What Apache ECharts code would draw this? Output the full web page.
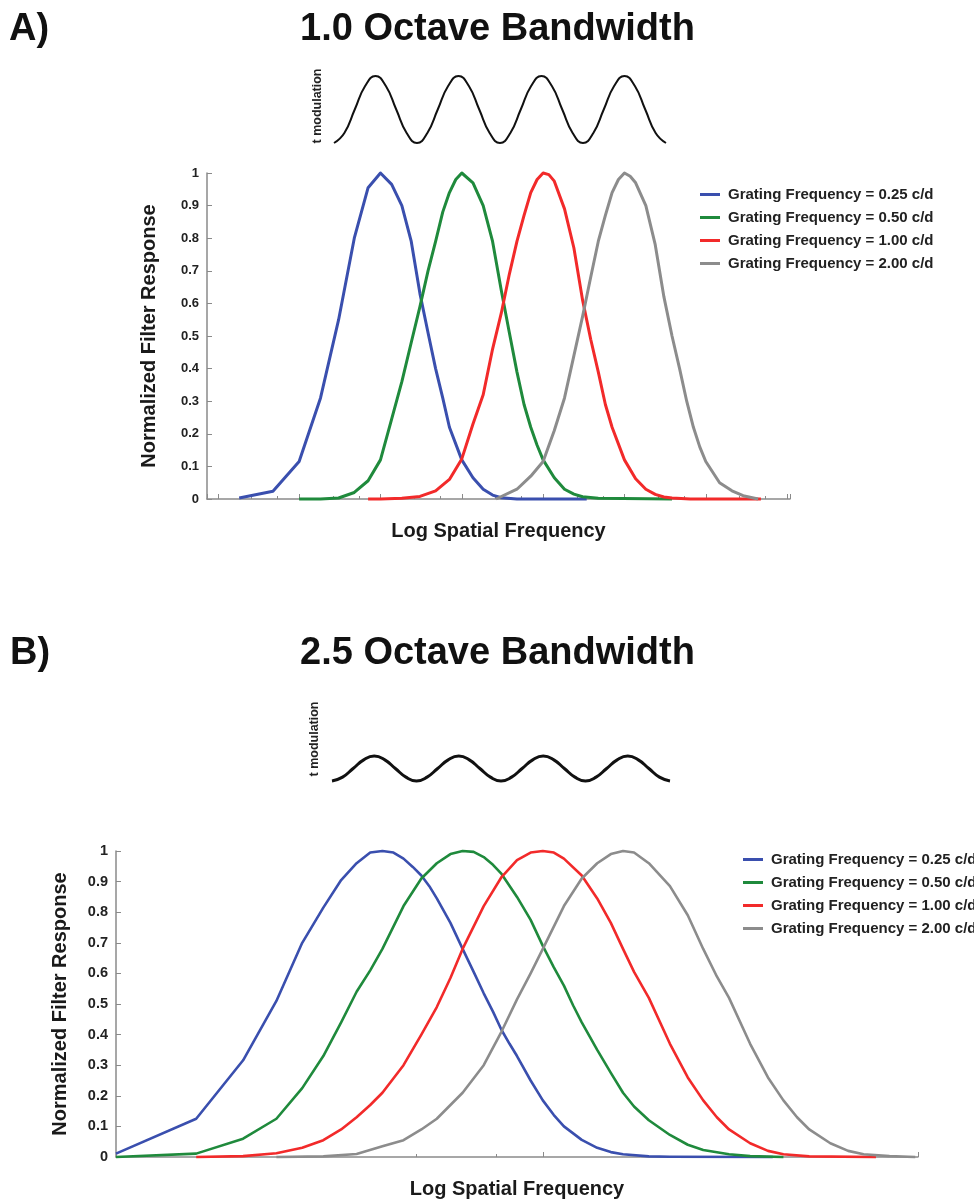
<!DOCTYPE html>
<html>
<head>
<meta charset="utf-8">
<script src="https://cdn.jsdelivr.net/npm/echarts@6/dist/echarts.min.js"></script>
<style>
html,body{margin:0;padding:0;background:#fff;}
#chart{width:974px;height:1201px;}
</style>
</head>
<body>
<div id="chart"></div>
<script>
// ---------- data ----------
const seriesNames = ['Grating Frequency = 0.25 c/d','Grating Frequency = 0.50 c/d','Grating Frequency = 1.00 c/d','Grating Frequency = 2.00 c/d'];
const yTickLabels = ['0','0.1','0.2','0.3','0.4','0.5','0.6','0.7','0.8','0.9','1'];

// Panel A: 1.0 octave bandwidth (x = spatial frequency c/d, y = normalized response)
const A_blue_f  = [0.075,0.1,0.125,0.15,0.175,0.2,0.225,0.25,0.275,0.3,0.325,0.35,0.375,0.4,0.425,0.45,0.5,0.55,0.6,0.65,0.7,0.8,1.45];
const A_blue_v  = [0.003,0.024,0.115,0.31,0.55,0.80,0.955,1.0,0.965,0.90,0.79,0.63,0.51,0.40,0.31,0.22,0.12,0.065,0.03,0.012,0.004,0,0];
const A_green_f = [0.125,0.15,0.175,0.2,0.225,0.25,0.275,0.3,0.325,0.35,0.375,0.4,0.425,0.45,0.475,0.5,0.55,0.6,0.65,0.7,0.75,0.8,0.85,0.9,0.95,1.0,1.1,1.2,1.3,1.4,1.6,3.0];
const A_green_v = [0,0,0.003,0.02,0.056,0.12,0.245,0.36,0.48,0.59,0.70,0.79,0.88,0.94,0.98,1.0,0.97,0.90,0.79,0.64,0.51,0.39,0.29,0.22,0.165,0.12,0.065,0.03,0.015,0.007,0.002,0];
const A_red_f   = [0.225,0.25,0.3,0.35,0.4,0.45,0.5,0.55,0.6,0.65,0.7,0.75,0.8,0.85,0.9,0.95,1.0,1.05,1.1,1.2,1.3,1.4,1.5,1.6,1.7,1.8,2.0,2.2,2.4,2.6,2.8,3.0,3.5,6.4];
const A_red_v   = [0,0,0.002,0.008,0.025,0.06,0.123,0.23,0.32,0.46,0.57,0.69,0.79,0.87,0.94,0.98,1.0,0.995,0.975,0.89,0.77,0.61,0.49,0.39,0.29,0.22,0.12,0.062,0.03,0.014,0.006,0.003,0,0];
const A_gray_f  = [0.67,0.8,0.9,1.0,1.1,1.2,1.3,1.4,1.5,1.6,1.7,1.8,1.9,2.0,2.1,2.2,2.4,2.6,2.8,3.0,3.2,3.4,3.6,3.8,4.0,4.5,5.0,5.5,6.25];
const A_gray_v  = [0,0.03,0.07,0.115,0.21,0.31,0.44,0.56,0.68,0.79,0.87,0.94,0.98,1.0,0.99,0.97,0.90,0.78,0.62,0.50,0.40,0.30,0.22,0.16,0.115,0.05,0.025,0.01,0];

// Panel B: 2.5 octave bandwidth
const B_blue_f  = [0.025,0.05,0.075,0.1,0.125,0.15,0.175,0.2,0.225,0.25,0.275,0.3,0.325,0.35,0.375,0.4,0.45,0.5,0.55,0.6,0.65,0.7,0.75,0.8,0.9,1.0,1.1,1.2,1.4,1.6,1.8,2.0,2.5,3.0,7.3];
const B_blue_v  = [0.011,0.125,0.316,0.51,0.70,0.815,0.905,0.96,0.995,1.0,0.995,0.975,0.948,0.92,0.885,0.845,0.765,0.68,0.605,0.535,0.475,0.415,0.37,0.33,0.25,0.185,0.137,0.10,0.056,0.03,0.016,0.009,0.002,0.001,0];
const B_green_f = [0.025,0.05,0.075,0.1,0.125,0.15,0.175,0.2,0.225,0.25,0.3,0.35,0.4,0.45,0.5,0.55,0.6,0.65,0.7,0.8,0.9,1.0,1.1,1.2,1.3,1.4,1.6,1.8,2.0,2.2,2.5,3.0,3.5,4.0,5.0,6.0,8.0];
const B_green_v = [0,0.011,0.06,0.125,0.225,0.33,0.44,0.54,0.61,0.68,0.82,0.91,0.96,0.99,1.0,0.997,0.98,0.955,0.925,0.85,0.775,0.69,0.62,0.56,0.495,0.44,0.35,0.275,0.21,0.165,0.12,0.072,0.04,0.023,0.009,0.003,0];
const B_red_f   = [0.05,0.075,0.1,0.125,0.15,0.175,0.2,0.225,0.25,0.3,0.35,0.4,0.45,0.5,0.6,0.7,0.8,0.9,1.0,1.1,1.2,1.4,1.6,1.8,2.0,2.2,2.5,3.0,3.5,4.0,4.5,5.0,6.0,7.0,8.0,10,17.8];
const B_red_v   = [0,0.003,0.012,0.03,0.055,0.09,0.13,0.17,0.21,0.30,0.40,0.49,0.585,0.68,0.82,0.915,0.97,0.995,1.0,0.995,0.975,0.92,0.845,0.765,0.68,0.605,0.52,0.37,0.26,0.185,0.13,0.09,0.045,0.02,0.009,0.002,0];
const B_gray_f  = [0.1,0.15,0.2,0.25,0.3,0.35,0.4,0.45,0.5,0.6,0.7,0.8,0.9,1.0,1.2,1.4,1.6,1.8,2.0,2.2,2.5,3.0,3.5,4.0,4.5,5.0,6.0,7.0,8.0,9.0,10,12,14,16,20,25];
const B_gray_v  = [0,0.002,0.01,0.035,0.055,0.09,0.125,0.17,0.21,0.30,0.41,0.515,0.60,0.68,0.82,0.91,0.96,0.99,1.0,0.995,0.96,0.885,0.79,0.68,0.59,0.52,0.37,0.26,0.185,0.13,0.09,0.045,0.02,0.009,0.003,0];

// temporal modulation illustrations (phase in cycles, modulation value)
const wave_t = [0,0.125,0.25,0.375,0.5,0.625,0.75,0.875,1,1.125,1.25,1.375,1.5,1.625,1.75,1.875,2,2.125,2.25,2.375,2.5,2.625,2.75,2.875,3,3.125,3.25,3.375,3.5,3.625,3.75,3.875,4];
const waveA_v = [-1,-0.7,0,0.7,1,0.7,0,-0.7,-1,-0.7,0,0.7,1,0.7,0,-0.7,-1,-0.7,0,0.7,1,0.7,0,-0.7,-1,-0.7,0,0.7,1,0.7,0,-0.7,-1];
const waveB_v = [-0.36,-0.25,0,0.25,0.36,0.25,0,-0.25,-0.36,-0.25,0,0.25,0.36,0.25,0,-0.25,-0.36,-0.25,0,0.25,0.36,0.25,0,-0.25,-0.36,-0.25,0,0.25,0.36,0.25,0,-0.25,-0.36];

// ---------- style ----------
const FONT = 'Liberation Sans, Arial, Helvetica, sans-serif';
const COLORS = ['#3a4fae','#1f8a3c','#f22a2a','#8c8c8c'];
const AXIS_COLOR = '#8a8a8a';
const zip = (f, v) => f.map((x, i) => [x, v[i]]);

const panelA = [[A_blue_f,A_blue_v],[A_green_f,A_green_v],[A_red_f,A_red_v],[A_gray_f,A_gray_v]];
const panelB = [[B_blue_f,B_blue_v],[B_green_f,B_green_v],[B_red_f,B_red_v],[B_gray_f,B_gray_v]];

function curveSeries(panel, idx, width) {
  return panel.map((p, i) => ({
    type: 'line', name: seriesNames[i], xAxisIndex: idx, yAxisIndex: idx,
    data: zip(p[0], p[1]), symbol: 'none', smooth: false, clip: false,
    lineStyle: { width: width, color: COLORS[i], join: 'round' }, itemStyle: { color: COLORS[i] }
  }));
}

function freqAxis(idx, min, max) {
  return {
    type: 'log', logBase: 2, gridIndex: idx, min: min, max: max,
    axisLine: { lineStyle: { color: AXIS_COLOR, width: 1.5 } },
    axisTick: { show: true, inside: true, length: 5, lineStyle: { color: AXIS_COLOR, width: 1 } },
    minorTick: { show: true, splitNumber: 3, length: 3, lineStyle: { color: AXIS_COLOR } },
    axisLabel: { show: false }, splitLine: { show: false },
    name: 'Log Spatial Frequency', nameLocation: 'middle', nameGap: 22,
    nameTextStyle: { fontSize: 20, fontWeight: 'bold', color: '#1a1a1a', fontFamily: FONT }
  };
}
function respAxis(idx, gap, fs) {
  return {
    type: 'value', gridIndex: idx, min: 0, max: 1, interval: 0.1,
    axisLine: { show: true, lineStyle: { color: AXIS_COLOR, width: 1.5 } },
    axisTick: { show: true, inside: true, length: 5, lineStyle: { color: AXIS_COLOR } },
    axisLabel: { fontSize: fs, fontWeight: 'bold', color: '#222', fontFamily: FONT, margin: 8,
      formatter: v => yTickLabels[Math.round(v * 10)] },
    splitLine: { show: false },
    name: 'Normalized Filter Response', nameLocation: 'middle', nameGap: gap,
    nameTextStyle: { fontSize: 20, fontWeight: 'bold', color: '#1a1a1a', fontFamily: FONT }
  };
}
const hiddenX = idx => ({ type: 'value', gridIndex: idx, min: 0, max: 4, show: false });
const hiddenY = idx => ({ type: 'value', gridIndex: idx, min: -1, max: 1, show: false });

const titleStyle = { fontSize: 38, fontWeight: 'bold', color: '#111', fontFamily: FONT };
const legendBase = {
  orient: 'vertical', icon: 'rect', itemWidth: 20, itemHeight: 3, itemGap: 8, padding: 0,
  data: seriesNames, selectedMode: false,
  textStyle: { fontSize: 15, fontWeight: 'bold', color: '#222', fontFamily: FONT, lineHeight: 15, padding: [0,0,0,3] }
};

const option = {
  animation: false,
  backgroundColor: '#ffffff',
  title: [
    { text: 'A)', left: 9, top: 11, padding: 0, textStyle: titleStyle },
    { text: '1.0 Octave Bandwidth', left: 300, top: 11, padding: 0, textStyle: titleStyle },
    { text: 'B)', left: 10, top: 635, padding: 0, textStyle: titleStyle },
    { text: '2.5 Octave Bandwidth', left: 300, top: 635, padding: 0, textStyle: titleStyle }
  ],
  grid: [
    { left: 207, top: 173, width: 583, height: 326 },
    { left: 116, top: 851, width: 802, height: 306 },
    { left: 334, top: 76, width: 332, height: 67 },
    { left: 332, top: 734, width: 338, height: 69 }
  ],
  xAxis: [ freqAxis(0, 0.057, 8.2), freqAxis(1, 0.025, 25.6), hiddenX(2), hiddenX(3) ],
  yAxis: [ respAxis(0, 48, 13), respAxis(1, 46, 14.5), hiddenY(2), hiddenY(3) ],
  legend: [
    Object.assign({}, legendBase, { left: 700, top: 187 }),
    Object.assign({}, legendBase, { left: 743, top: 852 })
  ],
  series: [
    ...curveSeries(panelA, 0, 3),
    ...curveSeries(panelB, 1, 2.6),
    { type: 'line', name: 'modA', xAxisIndex: 2, yAxisIndex: 2, data: zip(wave_t, waveA_v), symbol: 'none', smooth: true, clip: false,
      lineStyle: { width: 2, color: '#111' } },
    { type: 'line', name: 'modB', xAxisIndex: 3, yAxisIndex: 3, data: zip(wave_t, waveB_v), symbol: 'none', smooth: true, clip: false,
      lineStyle: { width: 3, color: '#111' } }
  ],
  graphic: [
    { type: 'text', x: 318, y: 106, rotation: Math.PI / 2,
      style: { text: 't modulation', font: 'bold 12.5px ' + FONT, fill: '#222', align: 'center', verticalAlign: 'middle' } },
    { type: 'text', x: 315, y: 739, rotation: Math.PI / 2,
      style: { text: 't modulation', font: 'bold 12.5px ' + FONT, fill: '#222', align: 'center', verticalAlign: 'middle' } }
  ]
};

const chart = echarts.init(document.getElementById('chart'), null, { renderer: 'canvas' });
chart.setOption(option);
</script>
</body>
</html>
